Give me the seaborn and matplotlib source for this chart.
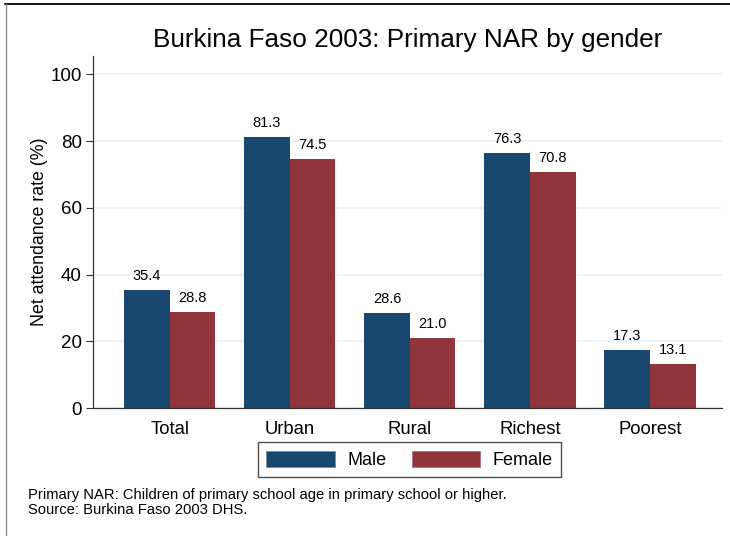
import pandas as pd
import seaborn as sns
import matplotlib.pyplot as plt
from matplotlib.lines import Line2D

categories = ["Total", "Urban", "Rural", "Richest", "Poorest"]
male = [35.4, 81.3, 28.6, 76.3, 17.3]
female = [28.8, 74.5, 21.0, 70.8, 13.1]
genders = ["Male", "Female"]
colors = ["#1a476f", "#90353b"]

df = pd.DataFrame({
    "group": categories * 2,
    "gender": ["Male"] * len(male) + ["Female"] * len(female),
    "rate": male + female,
})

sns.set_style("white")
plt.rcParams["font.family"] = ["Liberation Sans", "DejaVu Sans"]
plt.rcParams["text.color"] = "black"
plt.rcParams["axes.labelcolor"] = "black"
plt.rcParams["xtick.color"] = "black"
plt.rcParams["ytick.color"] = "black"

fig = plt.figure(figsize=(7.3, 5.36), dpi=100)
ax = fig.add_axes([0.1274, 0.2388, 0.8616, 0.6567])

sns.barplot(
    data=df, x="group", y="rate", hue="gender",
    order=categories, hue_order=genders, palette=colors,
    width=0.76, saturation=1, linewidth=0, ax=ax, legend=False,
)

for container in ax.containers:
    ax.bar_label(container, fmt="%.1f", padding=5, fontsize=10.5)

ax.set_ylim(0, 105.5)
ax.set_xlim(-0.64, 4.6)
ax.set_yticks([0, 20, 40, 60, 80, 100])
ax.yaxis.grid(True, color="#eaf2f3", linewidth=1.2)
ax.set_axisbelow(True)
ax.tick_params(axis="y", which="both", left=True, length=5, width=0.8,
               color="#333333", labelsize=13.5, pad=3)
ax.tick_params(axis="x", bottom=False, labelsize=13.3, pad=6)
ax.set_xlabel("")
ax.set_ylabel("Net attendance rate (%)", fontsize=12.8, labelpad=2)
for side in ["top", "right"]:
    ax.spines[side].set_visible(False)
for side in ["left", "bottom"]:
    ax.spines[side].set_color("#333333")
    ax.spines[side].set_linewidth(0.9)

fig.suptitle("Burkina Faso 2003: Primary NAR by gender", x=0.559, y=0.925,
             fontsize=18.8, va="center")

handles = [plt.Rectangle((0, 0), 1, 1, facecolor=c, edgecolor="#6f8fa8" if i == 0 else "#b07075",
                         linewidth=0.6) for i, c in enumerate(colors)]
leg = fig.legend(handles, genders, loc="center", bbox_to_anchor=(0.561, 0.142),
                 ncol=2, fontsize=13, frameon=True, fancybox=False,
                 handlelength=3.8, handleheight=1.05, handletextpad=0.7,
                 columnspacing=1.4, borderpad=0.45, borderaxespad=0)
leg.get_frame().set_edgecolor("#222222")
leg.get_frame().set_linewidth(1.0)

fig.text(0.038, 0.063, "Primary NAR: Children of primary school age in primary school or higher.\n"
         "Source: Burkina Faso 2003 DHS.", fontsize=10.6, va="center", linespacing=1.05)

# outer frame lines (top and left edges)
fig.add_artist(Line2D([0.007, 1.0], [0.992, 0.992], color="#111111", linewidth=1.4,
                      transform=fig.transFigure))
fig.add_artist(Line2D([0.008, 0.008], [0.0, 0.992], color="#888888", linewidth=1.0,
                      transform=fig.transFigure))

fig.savefig("out.png", dpi=100)
